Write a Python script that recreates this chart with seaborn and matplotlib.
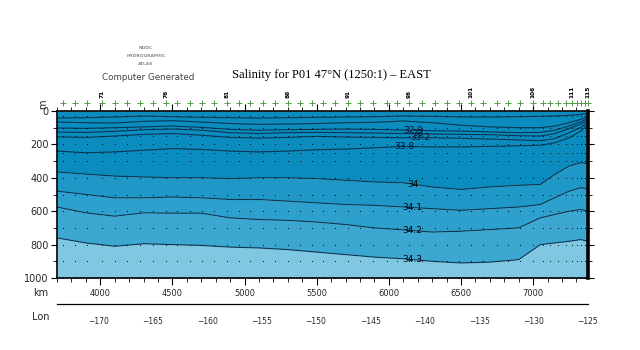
import numpy as np
import pandas as pd
import matplotlib
matplotlib.use("Agg")
import matplotlib.pyplot as plt
import matplotlib.transforms as mtransforms
from matplotlib.ticker import MultipleLocator
import seaborn as sns

sns.set_theme(style="white")
plt.rcParams['font.family'] = ['DejaVu Sans']

# ---------------- data ----------------
km_pts = [3700, 3900, 4100, 4300, 4500, 4700, 4900, 5100, 5300, 5500, 5700,
          5900, 6100, 6300, 6500, 6700, 6900, 7050, 7150, 7250, 7330, 7380]

iso_values = [32.7, 32.8, 32.9, 33.0, 33.2, 33.8, 34.0, 34.1, 34.2, 34.3]

d_327 = [42, 40, 36, 30, 34, 38, 40, 42, 40, 38, 36, 34, 30, 32, 35, 36, 34, 32, 30, 26, 20, 15]
d_328 = [66, 70, 72, 62, 58, 66, 75, 80, 78, 75, 70, 68, 60, 70, 85, 95, 100, 100, 90, 70, 50, 35]
d_329 = [102, 104, 100, 95, 90, 98, 110, 115, 112, 110, 108, 110, 115, 118, 120, 125, 130, 128, 115, 90, 65, 45]
d_330 = [126, 128, 122, 112, 108, 115, 130, 135, 130, 128, 130, 132, 135, 138, 140, 142, 148, 150, 135, 105, 78, 55]
d_332 = [155, 158, 150, 140, 135, 145, 158, 162, 158, 152, 156, 158, 160, 160, 163, 168, 173, 178, 165, 130, 98, 66]
d_338 = [240, 250, 245, 235, 225, 230, 240, 245, 240, 232, 228, 220, 212, 215, 215, 212, 208, 205, 190, 160, 120, 80]
d_340 = [365, 378, 390, 395, 400, 400, 405, 400, 400, 405, 415, 425, 430, 455, 470, 455, 445, 440, 380, 330, 310, 315]
d_341 = [480, 500, 520, 520, 515, 520, 530, 530, 540, 550, 560, 565, 575, 585, 595, 585, 575, 560, 520, 480, 460, 465]
d_342 = [575, 610, 630, 610, 612, 612, 640, 650, 655, 665, 680, 700, 712, 725, 720, 710, 700, 640, 620, 600, 590, 600]
d_343 = [760, 790, 810, 795, 800, 805, 815, 820, 830, 845, 860, 875, 885, 900, 910, 905, 890, 800, 790, 780, 770, 780]

station_num = list(range(68, 116))
station_km = [3742, 3825, 3908, 4012, 4102, 4185, 4275, 4365, 4455, 4532,
              4622, 4705, 4788, 4878, 4961, 5037, 5128, 5211, 5301, 5384,
              5467, 5543, 5627, 5717, 5800, 5890, 5987, 6056, 6139, 6229,
              6320, 6403, 6486, 6569, 6652, 6749, 6826, 6909, 6999, 7068,
              7116, 7172, 7227, 7269, 7304, 7332, 7359, 7380]
labelled_stations = [71, 76, 81, 86, 91, 96, 101, 106, 111, 115]
std_depths = [30, 100, 150, 200, 250, 300, 400, 500, 600, 700, 800, 900, 1000]

lon_range = [-173.8, -125.0]

band_colors = ["#0a8cbf", "#1f98c8", "#2ea0cd", "#3ca8d2", "#80c7e2"]
line_color = "#0b3550"

# ---------------- figure ----------------
W, H = 640, 350
fig = plt.figure(figsize=(6.4, 3.5), dpi=100)
fig.patch.set_facecolor("white")

def fx(px):
    return px / W

def fy(py):
    return 1 - py / H

ax = fig.add_axes([fx(57), fy(278), fx(588) - fx(57), fy(111) - fy(278)])
ax.set_facecolor("white")
ax.set_xlim(3700, 7380)
ax.set_ylim(1000, 0)

iso_depths = [d_327, d_328, d_329, d_330, d_332, d_338, d_340, d_341, d_342, d_343]
km = np.array(km_pts)

# filled bands
top = np.zeros_like(km, dtype=float)
bounds = [top, np.array(d_340), np.array(d_341), np.array(d_342), np.array(d_343),
          np.full_like(km, 1000, dtype=float)]
for i, col in enumerate(band_colors):
    ax.fill_between(km, bounds[i], bounds[i + 1], color=col, linewidth=0, zorder=1)

# contour lines via seaborn
rows = []
for v, d in zip(iso_values, iso_depths):
    for k, dd in zip(km_pts, d):
        rows.append({"km": k, "depth": dd, "sal": f"{v:g}"})
df_lines = pd.DataFrame(rows)
sns.lineplot(data=df_lines, x="km", y="depth", hue="sal", units="sal",
             estimator=None, sort=False, palette=[line_color] * len(iso_values),
             linewidth=0.8, legend=False, ax=ax, zorder=2)

# sample dots
grid = pd.DataFrame([(k, d) for k in station_km for d in std_depths],
                    columns=["km", "depth"])
sns.scatterplot(data=grid, x="km", y="depth", s=0.6, color="black",
                linewidth=0, ax=ax, zorder=3, legend=False)

# contour labels
lab_km = 6165
for v, d in zip(iso_values[6:], iso_depths[6:]):
    dep = np.interp(lab_km, km_pts, d)
    ax.text(lab_km, dep, f"{v:g}", fontsize=6.5, ha="center", va="center",
            color="black", zorder=5)
# crowded labels on the near-surface lines (they pile up as in the original)
for v, d, kk in [(32.9, d_329, 6170), (33.0, d_330, 6200), (33.2, d_332, 6215),
                 (33.8, d_338, 6110)]:
    dep = np.interp(kk, km_pts, d)
    ax.text(kk, dep, f"{v:g}", fontsize=6.5, ha="center", va="center",
            color="#0d1630", zorder=5)

ax.set_xlabel("")
ax.set_ylabel("")

# axes styling
for side in ["left", "top", "bottom"]:
    ax.spines[side].set_color("black")
    ax.spines[side].set_linewidth(1.2)
ax.spines["right"].set_color("black")
ax.spines["right"].set_linewidth(2.6)

ax.xaxis.set_major_locator(MultipleLocator(500))
ax.xaxis.set_minor_locator(MultipleLocator(100))
ax.yaxis.set_major_locator(MultipleLocator(200))
ax.yaxis.set_minor_locator(MultipleLocator(100))
ax.tick_params(axis="x", which="both", top=True, bottom=True, direction="out",
               labeltop=False, labelbottom=True, color="black", labelsize=6,
               pad=3)
ax.tick_params(axis="x", which="major", length=5, width=0.8)
ax.tick_params(axis="x", which="minor", length=3, width=0.6)
ax.tick_params(axis="y", which="both", left=True, right=True, direction="out",
               labelleft=True, labelright=False, color="black", labelsize=7,
               pad=2)
ax.tick_params(axis="y", which="major", length=4, width=0.8)
ax.tick_params(axis="y", which="minor", length=3, width=0.6)
ax.grid(False)

# station crosses and labels above the plot
trans = mtransforms.blended_transform_factory(ax.transData, ax.transAxes)
ax.plot(station_km, [1.048] * len(station_km), linestyle="none", marker="+",
        markersize=5, markeredgewidth=0.7, color="#4f9a45", transform=trans,
        clip_on=False, zorder=6)
for n, k in zip(station_num, station_km):
    if n in labelled_stations:
        ax.text(k, 1.08, str(n), rotation=90, ha="center", va="bottom",
                fontsize=4.2, fontweight="bold", color="black",
                transform=trans, clip_on=False)

# depth unit
fig.text(fx(43), fy(104), "m", rotation=90, fontsize=7, ha="center",
         va="center")

# longitude axis
ax2 = fig.add_axes([fx(57), fy(304), fx(588) - fx(57), 0.0001])
ax2.set_facecolor("none")
ax2.set_xlim(*lon_range)
ax2.set_yticks([])
for side in ["left", "right", "top"]:
    ax2.spines[side].set_visible(False)
ax2.spines["bottom"].set_color("black")
ax2.spines["bottom"].set_linewidth(0.9)
ax2.xaxis.set_major_locator(MultipleLocator(5))
ax2.xaxis.set_minor_locator(MultipleLocator(1))
ax2.tick_params(axis="x", which="both", direction="inout", color="black",
                labelsize=5.5, pad=5)
ax2.tick_params(axis="x", which="major", length=9, width=0.7)
ax2.tick_params(axis="x", which="minor", length=7, width=0.6)

fig.text(fx(41), fy(293), "km", fontsize=7, ha="center", va="center")
fig.text(fx(41), fy(317), "Lon", fontsize=7, ha="center", va="center")

# header texts
fig.text(fx(146), fy(48), "NODC", fontsize=3.2, fontweight="bold",
         color="#8a8a8a", ha="center", va="center")
fig.text(fx(146), fy(56), "HYDROGRAPHIC", fontsize=3.2, fontweight="bold",
         color="#8a8a8a", ha="center", va="center")
fig.text(fx(146), fy(64), "ATLAS", fontsize=3.2, fontweight="bold",
         color="#8a8a8a", ha="center", va="center")
fig.text(fx(148), fy(77), "Computer Generated", fontsize=6.3,
         color="#444444", ha="center", va="center")
fig.text(fx(331), fy(75), "Salinity for P01 47°N (1250:1) – EAST",
         fontsize=9, family=["Liberation Serif", "DejaVu Serif"],
         ha="center", va="center", color="black")

fig.savefig("out.png", dpi=100, facecolor="white")
